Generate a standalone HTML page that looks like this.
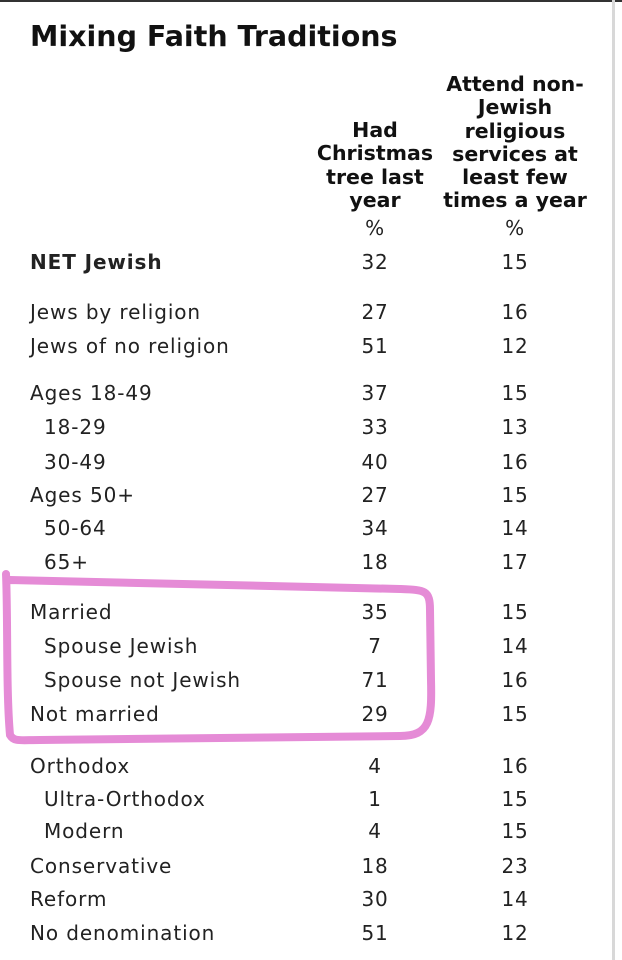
<!DOCTYPE html>
<html><head><meta charset="utf-8"><style>
body{margin:0;width:622px;height:960px;background:#fff;position:relative;overflow:hidden;font-family:"DejaVu Sans","Liberation Sans",sans-serif;color:#222}
.t{position:absolute;white-space:nowrap;line-height:1}
.r{position:absolute;left:30px;font-size:20px;letter-spacing:0.9px;line-height:1;transform:translateY(-50%);white-space:nowrap}
.c1,.c2{position:absolute;font-size:20px;letter-spacing:0.8px;width:80px;text-align:center;line-height:1;transform:translateY(-50%)}
.c1{left:335px}.c2{left:475px}
.h{position:absolute;font-weight:bold;font-size:20.5px;text-align:center;line-height:23.3px;color:#111;white-space:nowrap}
</style></head><body>
<div style="position:absolute;left:0;top:0;width:622px;height:2px;background:#333"></div>
<div style="position:absolute;left:612px;top:0;width:3px;height:960px;background:#d8d8d8"></div>
<div class="t" style="left:30px;top:23px;font-size:28.5px;font-weight:bold;color:#111">Mixing Faith Traditions</div>
<div class="h" style="left:300px;top:119px;width:150px">Had<br>Christmas<br>tree last<br>year</div>
<div class="h" style="left:425px;top:73px;width:180px">Attend non-<br>Jewish<br>religious<br>services at<br>least few<br>times a year</div>
<div class="c1" style="top:228px">%</div><div class="c2" style="top:228px">%</div>
<div id="rows"></div>
<svg style="position:absolute;left:0;top:0" width="622" height="960"><path d="M6 574 C8 620 6 690 10 735 C 14 742 20 740 40 740 L 400 736 C 430 736 432 720 431 680 L 430 610 C 430 590 425 590 400 589 L 10 580" fill="none" stroke="#e58bd6" stroke-width="8" stroke-linecap="round"/></svg>
<script>
var d=[["<b>NET Jewish</b>",32,15,262,0],["Jews by religion",27,16,312,0],["Jews of no religion",51,12,346,0],["Ages 18-49",37,15,393,0],["18-29",33,13,427,1],["30-49",40,16,462,1],["Ages 50+",27,15,495,0],["50-64",34,14,528,1],["65+",18,17,562,1],["Married",35,15,612,0],["Spouse Jewish",7,14,646,1],["Spouse not Jewish",71,16,680,1],["Not married",29,15,714,0],["Orthodox",4,16,766,0],["Ultra-Orthodox",1,15,799,1],["Modern",4,15,831,1],["Conservative",18,23,866,0],["Reform",30,14,899,0],["No denomination",51,12,933,0]];
var h="";d.forEach(function(x){h+='<div class="r" style="top:'+x[3]+'px;left:'+(x[4]?44:30)+'px">'+x[0]+'</div><div class="c1" style="top:'+x[3]+'px">'+x[1]+'</div><div class="c2" style="top:'+x[3]+'px">'+x[2]+'</div>';});
document.getElementById("rows").innerHTML=h;
</script>
</body></html>
